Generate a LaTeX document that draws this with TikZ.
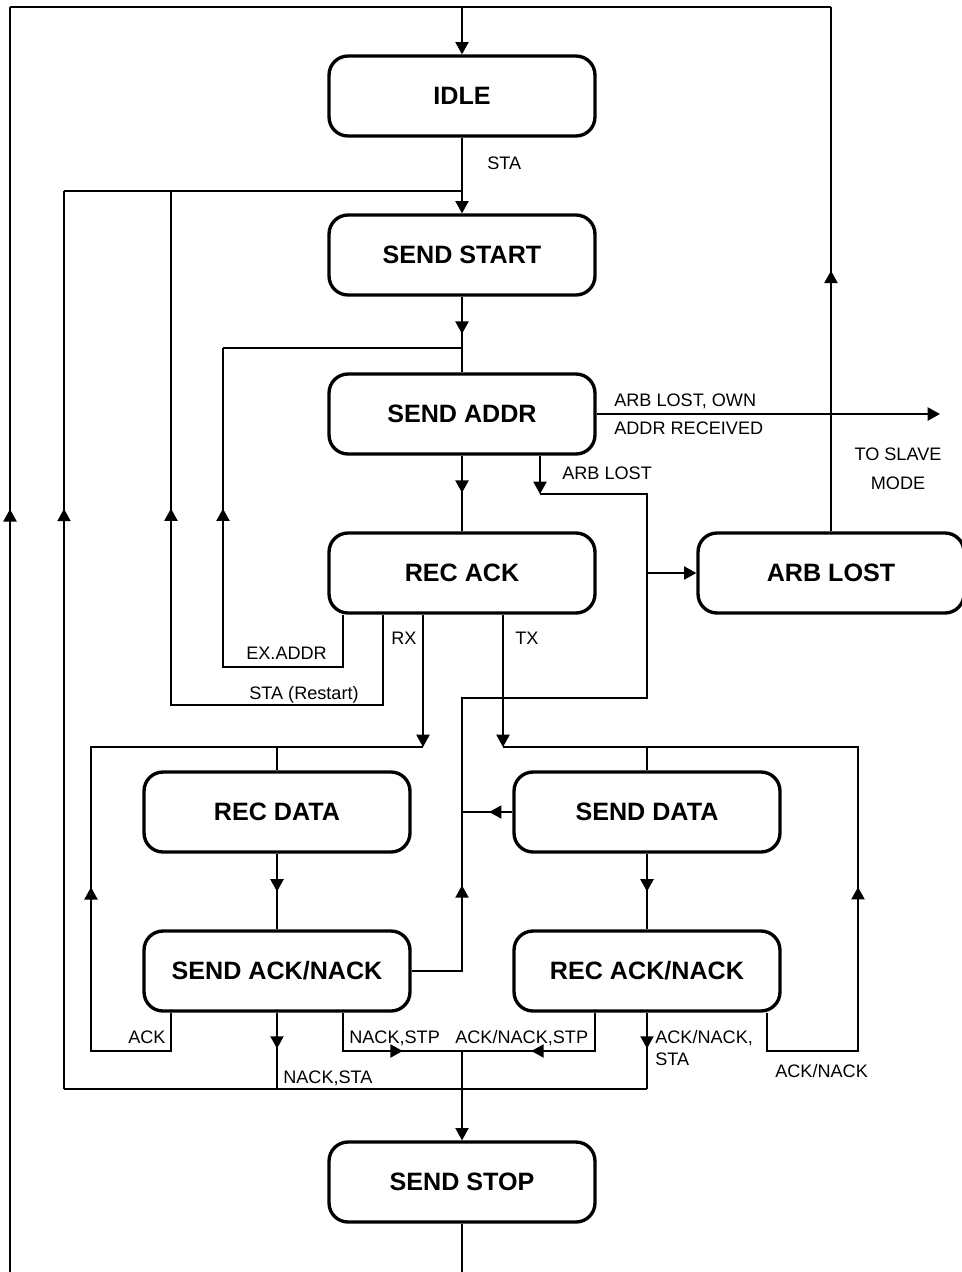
\documentclass[tikz,border=0pt]{standalone}
\usepackage{fontspec}
\setmainfont{Liberation Sans}
\usepackage{tikz}
\usetikzlibrary{arrows.meta,decorations.markings}

\begin{document}
\begin{tikzpicture}[x=0.02cm,y=-0.02cm,
    state/.style={draw,line width=1.9pt,rounded corners=0.38cm,minimum width=5.32cm,minimum height=1.6cm,font=\fontsize{14.3}{16}\selectfont\bfseries},
    wire/.style={line width=0.9pt},
    tip/.style={-{Triangle[length=7pt,width=7.5pt]}},
    midtip/.style={postaction={decorate,decoration={markings,mark=at position #1 with {\arrow{Triangle[length=7pt,width=7.5pt]}}}}},
    lbl/.style={inner sep=0pt,anchor=base west,font=\fontsize{10.3}{12.4}\selectfont}]
    \useasboundingbox (0,0) rectangle (962,1272);

    % States
    \node[state] (idle) at (462,96) {IDLE};
    \node[state] (start) at (462,255) {SEND START};
    \node[state] (addr) at (462,414) {SEND ADDR};
    \node[state] (recack) at (462,573) {REC ACK};
    \node[state] (arblost) at (831,573) {ARB LOST};
    \node[state] (recdata) at (277,812) {REC DATA};
    \node[state] (senddata) at (647,812) {SEND DATA};
    \node[state] (sendack) at (277,971) {SEND ACK/NACK};
    \node[state] (recnack) at (647,971) {REC ACK/NACK};
    \node[state] (stop) at (462,1182) {SEND STOP};

    % Corners of the wires
    \coordinate (botL) at (10,1272);
    \coordinate (topL) at (10,7);
    \coordinate (topR) at (831,7);
    \coordinate (topM) at (462,7);
    \coordinate (botM) at (462,1272);
    \coordinate (staJ) at (462,191);
    \coordinate (rsL) at (64,191);
    \coordinate (bbL) at (64,1089);
    \coordinate (bbR) at (647,1089);
    \coordinate (rs1) at (383,705);
    \coordinate (rs2) at (171,705);
    \coordinate (rs3) at (171,191);
    \coordinate (ex1) at (343,667);
    \coordinate (ex2) at (223,667);
    \coordinate (ex3) at (223,348);
    \coordinate (ex4) at (462,348);
    \coordinate (al1) at (540,494);
    \coordinate (al2) at (647,494);
    \coordinate (al3) at (647,698);
    \coordinate (al4) at (462,698);
    \coordinate (al5) at (462,971);
    \coordinate (slave) at (940,414);
    \coordinate (rx1) at (423,747);
    \coordinate (ack1) at (171,1051);
    \coordinate (ack2) at (91,1051);
    \coordinate (ack3) at (91,747);
    \coordinate (tx1) at (503,747);
    \coordinate (an1) at (767,1051);
    \coordinate (an2) at (858,1051);
    \coordinate (an3) at (858,747);
    \coordinate (ns1) at (343,1051);
    \coordinate (as1) at (595,1051);
    \coordinate (sj) at (462,1051);

    % Outer loops
    \draw[wire,midtip=0.603] (botL) -- (topL);
    \draw[wire,tip] (topL) -| (idle.north);
    \draw[wire,midtip=0.497] (arblost.north) -- (topR);
    \draw[wire] (topR) -- (topM);
    \draw[wire] (stop.south) -- (botM);

    % Start and address
    \draw[wire,tip] (idle.south) -- (start.north);
    \draw[wire,midtip=0.646] (bbL) -- (rsL);
    \draw[wire] (rsL) -- (staJ);
    \draw[wire,midtip=0.49] (start.south) -- (addr.north);
    \draw[wire] (ex3) -- (ex4);
    \draw[wire,midtip=0.49] (addr.south) -- (recack.north);
    \draw[wire,tip] (addr.east) -- (slave);

    % Arbitration lost
    \draw[wire,tip] (addr.south -| al1) -- (al1);
    \draw[wire,midtip=0.166] (sendack.east) -- (al5) -- (al4) -- (al3) -- (al2) -- (al1);
    \draw[wire,tip] (arblost.west -| al2) -- (arblost.west);

    % REC ACK outputs
    \draw[wire,midtip=0.673] (recack.south -| ex1) -- (ex1) -- (ex2) -- (ex3);
    \draw[wire,midtip=0.611] (recack.south -| rs1) -- (rs1) -- (rs2) -- (rs3);
    \draw[wire,tip] (recack.south -| rx1) -- (rx1);
    \draw[wire,tip] (recack.south -| tx1) -- (tx1);

    % Receive branch
    \draw[wire,midtip=0.374] (sendack.south -| ack1) -- (ack1) -- (ack2) -- (ack3) -- (rx1);
    \draw[wire] (recdata.north |- rx1) -- (recdata.north);
    \draw[wire,midtip=0.5] (recdata.south) -- (sendack.north);
    \draw[wire,midtip=0.47] (sendack.south) -- (sendack.south |- bbL);
    \draw[wire,midtip=0.623] (sendack.south -| ns1) -- (ns1) -- (sj);

    % Transmit branch
    \draw[wire,midtip=0.372] (recnack.south -| an1) -- (an1) -- (an2) -- (an3) -- (tx1);
    \draw[wire] (senddata.north |- tx1) -- (senddata.north);
    \draw[wire,midtip=0.5] (senddata.south) -- (recnack.north);
    \draw[wire,midtip=0.46] (senddata.west) -- (senddata.west -| al4);
    \draw[wire,midtip=0.47] (recnack.south) -- (bbR);
    \draw[wire,midtip=0.595] (recnack.south -| as1) -- (as1) -- (sj);

    % Stop
    \draw[wire] (bbL) -- (bbR);
    \draw[wire,tip] (sj) -- (stop.north);

    % Labels
    \node[lbl] (lsta) at (487,169.5) {STA};
    \node[lbl] (lown) at (614,406.5) {ARB LOST, OWN};
    \node[lbl] (lrecv) at (614,434.5) {ADDR RECEIVED};
    \node[align=center,inner sep=0pt,font=\fontsize{10.3}{16.4}\selectfont] (lslave) at (898,469) {TO SLAVE\\MODE};
    \node[lbl] (larb) at (562,479.5) {ARB LOST};
    \node[lbl] (lex) at (246,659.5) {EX.ADDR};
    \node[lbl] (lrs) at (249,699.5) {STA (Restart)};
    \node[lbl] (lrx) at (391,644.5) {RX};
    \node[lbl] (ltx) at (515,644.5) {TX};
    \node[lbl] (lack) at (128,1043.5) {ACK};
    \node[lbl] (lnstp) at (349,1043.5) {NACK,STP};
    \node[lbl] (lanstp) at (455,1043.5) {ACK/NACK,STP};
    \node[lbl] (lnsta) at (283,1083.5) {NACK,STA};
    \node[lbl] (lansta) at (655,1043.5) {ACK/NACK,};
    \node[lbl] (lansta2) at (655,1065.5) {STA};
    \node[lbl] (lan) at (775,1077.5) {ACK/NACK};
\end{tikzpicture}
\end{document}
